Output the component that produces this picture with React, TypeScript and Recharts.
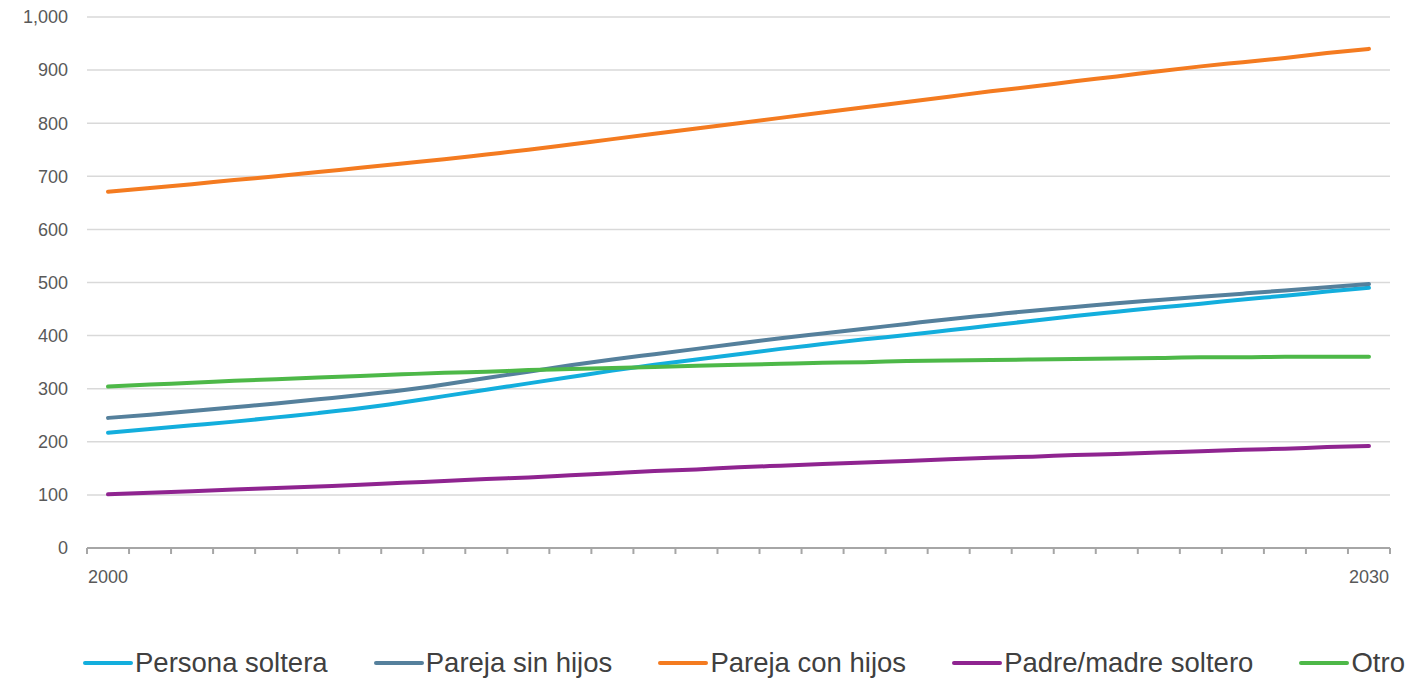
import React from "react";
import { LineChart, Line, XAxis, YAxis, CartesianGrid, Legend } from "recharts";

const YEARS = [
  2000, 2001, 2002, 2003, 2004, 2005, 2006, 2007, 2008, 2009, 2010,
  2011, 2012, 2013, 2014, 2015, 2016, 2017, 2018, 2019, 2020,
  2021, 2022, 2023, 2024, 2025, 2026, 2027, 2028, 2029, 2030,
];
const LABELED_YEARS = [2000, 2030];
const Y_TICKS = [0, 100, 200, 300, 400, 500, 600, 700, 800, 900, 1000];

// values, one per year
const personaSoltera = [
  217, 224, 231, 238, 246, 254, 263, 274, 286, 298, 310,
  322, 334, 345, 355, 365, 375, 384, 393, 401, 410,
  419, 428, 437, 445, 453, 460, 468, 475, 483, 490,
];
const parejaSinHijos = [
  245, 251, 258, 265, 272, 280, 288, 297, 308, 320, 332,
  344, 355, 365, 375, 385, 395, 404, 413, 422, 431,
  439, 447, 454, 461, 467, 473, 479, 485, 491, 497,
];
const parejaConHijos = [
  671, 678, 685, 693, 700, 708, 716, 724, 732, 741, 750,
  760, 770, 780, 790, 800, 810, 820, 830, 840, 850,
  860, 869, 879, 888, 898, 907, 915, 923, 932, 940,
];
const padreMadreSoltero = [
  101, 104, 107, 110, 113, 116, 119, 123, 126, 130, 133,
  137, 141, 145, 148, 152, 155, 158, 161, 164, 167,
  170, 172, 175, 177, 180, 182, 185, 187, 190, 192,
];
const otro = [
  304, 308, 311, 315, 318, 321, 324, 327, 330, 332, 335,
  337, 339, 341, 343, 345, 347, 349, 350, 352, 353,
  354, 355, 356, 357, 358, 359, 359, 360, 360, 360,
];

const SERIES = [
  { key: "soltera", name: "Persona soltera", color: "#13aedd", values: personaSoltera },
  { key: "sinHijos", name: "Pareja sin hijos", color: "#55809c", values: parejaSinHijos },
  { key: "conHijos", name: "Pareja con hijos", color: "#f47b20", values: parejaConHijos },
  { key: "padre", name: "Padre/madre soltero", color: "#8f2490", values: padreMadreSoltero },
  { key: "otro", name: "Otro", color: "#4db848", values: otro },
];

const data = YEARS.map((year, i) => {
  const row: Record<string, number> = { year };
  SERIES.forEach((s) => {
    row[s.key] = s.values[i];
  });
  return row;
});

const WIDTH = 1421;
const HEIGHT = 678;
const MARGIN = { top: 17, right: 31, left: 0, bottom: 0 };
const Y_AXIS_WIDTH = 87;
const PLOT_WIDTH = WIDTH - MARGIN.left - MARGIN.right - Y_AXIS_WIDTH;
const HALF_BAND = PLOT_WIDTH / YEARS.length / 2;

const AXIS_COLOR = "#a6a6a6";
const LABEL_COLOR = "#595959";
const FONT = "'Liberation Sans', Arial, sans-serif";

function YearTick(props: any) {
  const { x, y, payload, index } = props;
  const year = payload.value;
  return (
    <g>
      {index === 0 && (
        <line x1={x - HALF_BAND} x2={x - HALF_BAND} y1={y} y2={y + 6} stroke={AXIS_COLOR} strokeWidth={2} />
      )}
      <line x1={x + HALF_BAND} x2={x + HALF_BAND} y1={y} y2={y + 6} stroke={AXIS_COLOR} strokeWidth={2} />
      {LABELED_YEARS.includes(year) && (
        <text x={x} y={y + 35} textAnchor="middle" fill={LABEL_COLOR} fontSize={18} fontFamily={FONT}>
          {year}
        </text>
      )}
    </g>
  );
}

function LegendContent() {
  return (
    <div
      style={{
        display: "flex",
        justifyContent: "space-between",
        alignItems: "center",
        height: 30,
        paddingLeft: 83,
        paddingRight: 16,
        fontFamily: FONT,
        fontSize: 27.5,
        color: "#404040",
      }}
    >
      {SERIES.map((s) => (
        <div key={s.key} style={{ display: "flex", alignItems: "center", whiteSpace: "nowrap" }}>
          <div style={{ width: 50, height: 4, background: s.color, borderRadius: 2, marginRight: 2 }} />
          <span>{s.name}</span>
        </div>
      ))}
    </div>
  );
}

export default function App() {
  return (
    <div style={{ position: "absolute", left: 0, top: 0, background: "#fff" }}>
      <LineChart width={WIDTH} height={HEIGHT} data={data} margin={MARGIN}>
        <CartesianGrid vertical={false} stroke="#d9d9d9" strokeWidth={1.5} />
        <XAxis
          dataKey="year"
          type="number"
          domain={[1999.5, 2030.5]}
          ticks={YEARS}
          interval={0}
          tickLine={false}
          tickSize={0}
          tickMargin={0}
          height={100}
          axisLine={{ stroke: AXIS_COLOR, strokeWidth: 2 }}
          tick={<YearTick />}
        />
        <YAxis
          width={Y_AXIS_WIDTH}
          domain={[0, 1000]}
          ticks={Y_TICKS}
          interval={0}
          axisLine={false}
          tickLine={false}
          tickSize={0}
          tickMargin={19}
          tickFormatter={(v: number) => v.toLocaleString("en-US")}
          tick={{ fill: LABEL_COLOR, fontSize: 18, fontFamily: FONT }}
        />
        {SERIES.map((s) => (
          <Line
            key={s.key}
            type="monotone"
            dataKey={s.key}
            name={s.name}
            stroke={s.color}
            strokeWidth={4}
            strokeLinecap="round"
            dot={false}
            activeDot={false}
            isAnimationActive={false}
          />
        ))}
        <Legend
          verticalAlign="bottom"
          content={<LegendContent />}
          wrapperStyle={{ left: 0, width: WIDTH, height: 30 }}
        />
      </LineChart>
    </div>
  );
}
